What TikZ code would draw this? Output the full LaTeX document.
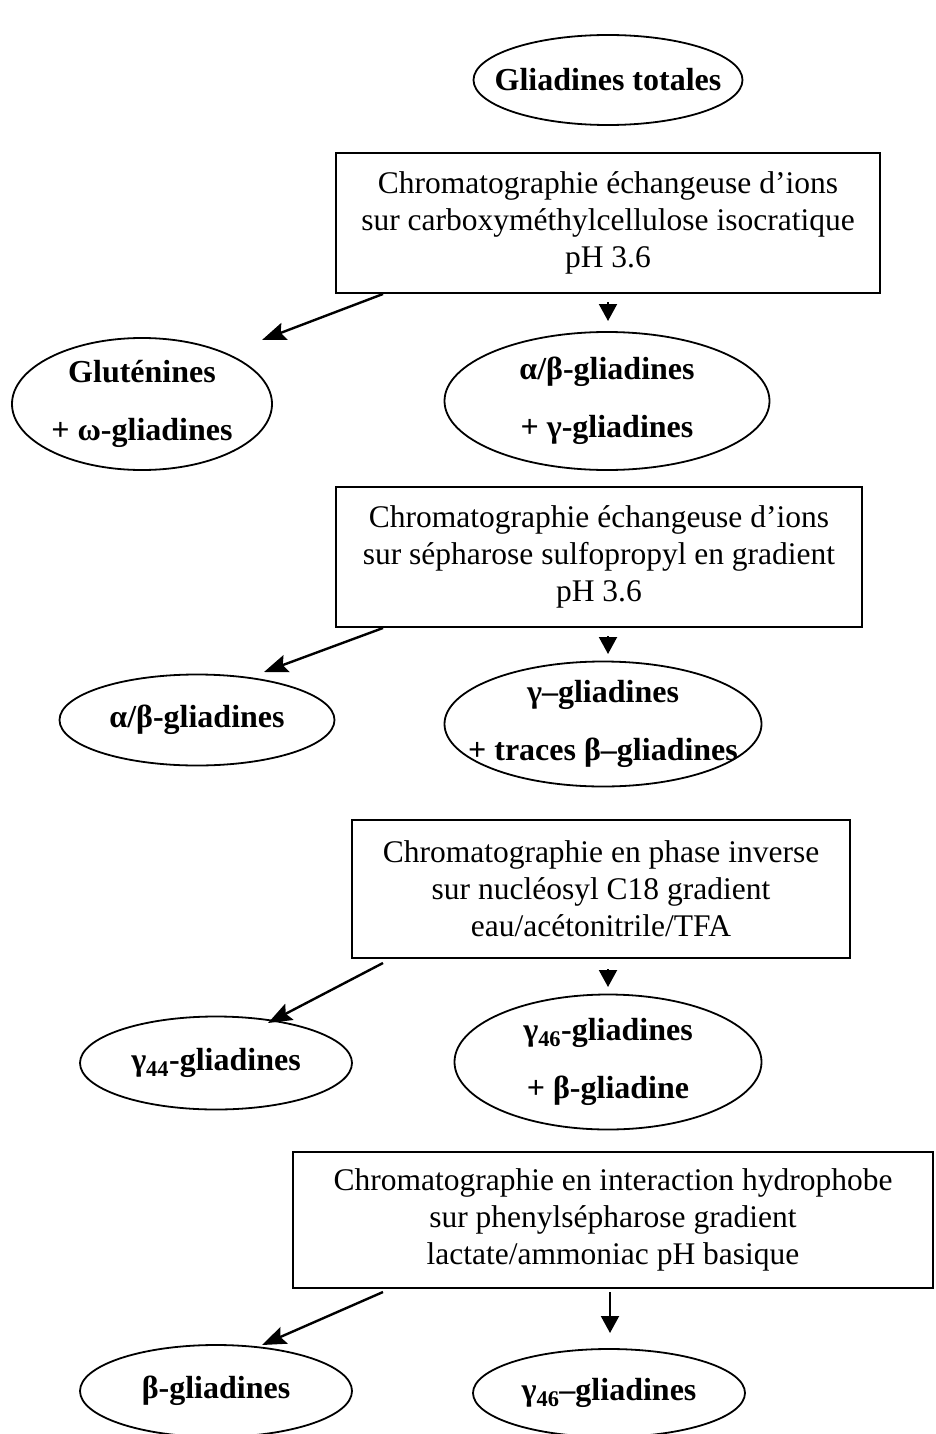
\documentclass[tikz,border=0pt]{standalone}
\usepackage{fontspec}
\setmainfont{Liberation Serif}
\usetikzlibrary{shapes.geometric,arrows.meta}

\tikzset{
	etape/.style={draw, line width=2.2pt, align=center, inner sep=0pt, font=\fontsize{31.5}{37}\selectfont},
	fraction/.style={draw, ellipse, line width=1.8pt, align=center, inner xsep=-30pt, inner ysep=-8pt, font=\fontsize{32}{36}\selectfont\bfseries},
	vers/.style={-{Stealth[length=24pt,width=18pt,inset=4pt]}, line width=2.4pt},
	bas/.style={-{Triangle[length=17pt,width=18pt]}, line width=2pt},
}

\begin{document}
\begin{tikzpicture}[x=1pt,y=-1pt]
	\useasboundingbox (0,0) rectangle (935,1434);
	% depart
	\node[fraction, minimum width=269, minimum height=90] (tot) at (608,80) {Gliadines totales};
	% etape 1
	\node[etape, minimum width=544, minimum height=140] (ch1) at (608,223) {Chromatographie échangeuse d’ions\\sur carboxyméthylcellulose isocratique\\pH 3.6};
	\node[fraction, minimum width=260, minimum height=132] (glu) at (142,404) {Gluténines\\[22pt]+ ω-gliadines};
	\node[fraction, minimum width=325, minimum height=138] (ab1) at (607,401) {α/β-gliadines\\[22pt]+ γ-gliadines};
	% etape 2
	\node[etape, minimum width=526, minimum height=140] (ch2) at (599,557) {Chromatographie échangeuse d’ions\\sur sépharose sulfopropyl en gradient\\pH 3.6};
	\node[fraction, minimum width=275, minimum height=91] (ab2) at (197,720) {α/β-gliadines};
	\node[fraction, minimum width=317, minimum height=125] (gtr) at (603,724) {γ–gliadines\\[22pt]+ traces β–gliadines};
	% etape 3
	\node[etape, minimum width=498, minimum height=138] (ch3) at (601,889) {Chromatographie en phase inverse\\sur nucléosyl C18 gradient\\eau/acétonitrile/TFA};
	\node[fraction, minimum width=272, minimum height=93] (g44) at (216,1063) {γ\textsubscript{44}-gliadines};
	\node[fraction, minimum width=307, minimum height=135] (g46b) at (608,1062) {γ\textsubscript{46}-gliadines\\[22pt]+ β-gliadine};
	% etape 4
	\node[etape, minimum width=640, minimum height=136] (ch4) at (613,1220) {Chromatographie en interaction hydrophobe\\sur phenylsépharose gradient\\lactate/ammoniac pH basique};
	\node[fraction, minimum width=272, minimum height=92] (bet) at (216,1391) {β-gliadines};
	\node[fraction, minimum width=272, minimum height=88] (g46) at (609,1393) {γ\textsubscript{46}–gliadines};
	% fleches
	\coordinate (g1) at (383,294);
	\coordinate (g1f) at (262,340);
	\coordinate (d1) at (608,302);
	\coordinate (d1f) at (608,321);
	\coordinate (g2) at (383,628);
	\coordinate (g2f) at (264,672);
	\coordinate (d2) at (608,636);
	\coordinate (d2f) at (608,654);
	\coordinate (g3) at (383,963);
	\coordinate (g3f) at (268,1023);
	\coordinate (d3) at (608,969);
	\coordinate (d3f) at (608,987);
	\coordinate (g4) at (383,1292);
	\coordinate (g4f) at (262,1345);
	\coordinate (d4) at (610,1292);
	\coordinate (d4f) at (610,1333);
	\draw[vers] (g1) -- (g1f);
	\draw[bas] (d1) -- (d1f);
	\draw[vers] (g2) -- (g2f);
	\draw[bas] (d2) -- (d2f);
	\draw[vers] (g3) -- (g3f);
	\draw[bas] (d3) -- (d3f);
	\draw[vers] (g4) -- (g4f);
	\draw[bas] (d4) -- (d4f);
\end{tikzpicture}
\end{document}
